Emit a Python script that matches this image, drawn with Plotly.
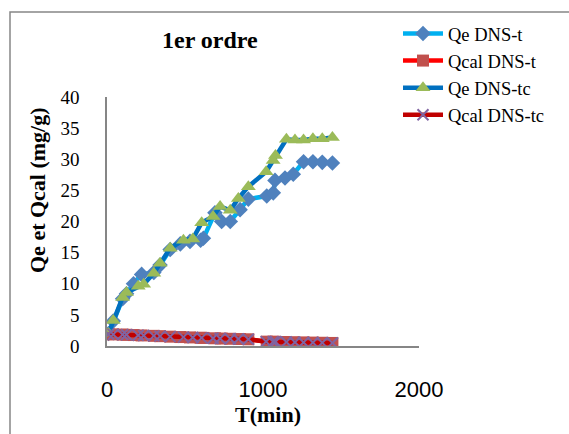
import plotly.graph_objects as go

# ---- data ----
t_t = [10, 40, 100, 125, 170, 222, 300, 340, 405, 470, 532, 600, 618, 692, 735, 790,
       853, 906, 1024, 1066, 1077, 1141, 1194, 1260, 1320, 1380, 1445]
qe_t = [2.0, 4.0, 7.6, 8.4, 10.0, 11.5, 11.8, 13.0, 15.5, 16.4, 16.8, 17.0, 17.3, 21.4, 20.0, 20.0,
        21.9, 23.6, 24.1, 24.6, 26.6, 27.0, 27.6, 29.6, 29.6, 29.5, 29.4]
qcal_t = [1.9, 1.87, 1.83, 1.8, 1.76, 1.7, 1.63, 1.58, 1.5, 1.44, 1.38, 1.32, 1.3, 1.24, 1.2, 1.16,
          1.12, 1.08, 0.7, 0.68, 0.67, 0.64, 0.61, 0.58, 0.55, 0.52, 0.49]

t_tc = [10, 40, 100, 125, 200, 235, 300, 340, 405, 490, 550, 607, 680, 725, 790, 842,
        906, 1020, 1065, 1080, 1150, 1205, 1260, 1320, 1380, 1445]
qe_tc = [2.0, 4.1, 7.8, 8.6, 9.6, 9.9, 11.7, 13.3, 15.7, 17.0, 17.2, 19.8, 20.8, 22.4, 21.8, 23.7,
         25.6, 28.0, 29.8, 30.6, 33.2, 33.1, 33.1, 33.3, 33.3, 33.5]
qcal_tc = [1.9, 1.87, 1.83, 1.8, 1.74, 1.69, 1.63, 1.58, 1.5, 1.42, 1.36, 1.31, 1.25, 1.2, 1.16, 1.12,
           1.08, 0.7, 0.68, 0.67, 0.64, 0.61, 0.58, 0.55, 0.52, 0.49]

series_names = ["Qe DNS-t", "Qcal DNS-t", "Qe DNS-tc", "Qcal DNS-tc"]
x_ticks = [0, 1000, 2000]
y_ticks = [0, 5, 10, 15, 20, 25, 30, 35, 40]

W, H = 569, 434
L, R, T, B = 107, 150, 97, 88
PW, PH = W - L - R, H - T - B

def px(x):
    return (x - L) / PW

def py(y):
    return (H - B - y) / PH

SERIF = "Liberation Serif"

fig = go.Figure()
fig.add_trace(go.Scatter(x=t_t, y=qe_t, name=series_names[0], mode="lines+markers",
                         line=dict(color="#00B0F0", width=4.5),
                         marker=dict(symbol="diamond", size=12, color="#4F81BD")))
fig.add_trace(go.Scatter(x=t_t, y=qcal_t, name=series_names[1], mode="lines+markers",
                         line=dict(color="#FF0000", width=4.5),
                         marker=dict(symbol="square", size=12, color="#C0504D")))
fig.add_trace(go.Scatter(x=t_tc, y=qe_tc, name=series_names[2], mode="lines+markers",
                         line=dict(color="#0070C0", width=4.5),
                         marker=dict(symbol="triangle-up", size=13, color="#9BBB59")))
fig.add_trace(go.Scatter(x=t_tc, y=qcal_tc, name=series_names[3], mode="lines+markers",
                         line=dict(color="#C00000", width=4.5),
                         marker=dict(symbol="x-thin", size=11, line=dict(color="#8064A2", width=2),
                                     color="#8064A2")))

fig.update_layout(
    width=W, height=H,
    margin=dict(l=L, r=R, t=T, b=B),
    paper_bgcolor="white", plot_bgcolor="white",
    showlegend=True,
    legend=dict(x=px(398), y=py(15), xanchor="left", yanchor="top",
                font=dict(family=SERIF, size=18.5, color="black"),
                bgcolor="rgba(0,0,0,0)", tracegroupgap=0, itemwidth=40),
    xaxis=dict(range=[0, 2000], tickvals=x_ticks, ticktext=[str(v) for v in x_ticks],
               showgrid=False, zeroline=False, showline=True, linecolor="#868686", linewidth=1.5,
               ticks="", ticklabelstandoff=23,
               tickfont=dict(family="Liberation Sans", size=22, color="black")),
    yaxis=dict(range=[0, 40], tickvals=y_ticks, ticktext=[str(v) for v in y_ticks],
               showgrid=False, zeroline=False, showline=True, linecolor="#868686", linewidth=1.5,
               ticks="", ticklabelstandoff=22,
               tickfont=dict(family=SERIF, size=19, color="black")),
    annotations=[
        dict(text="<b>1er ordre</b>", x=px(210), y=py(40), xref="paper", yref="paper",
             xanchor="center", yanchor="middle",
             showarrow=False, font=dict(family=SERIF, size=24, color="black")),
        dict(text="<b>Qe et Qcal (mg/g)</b>", x=px(37), y=py(190), xref="paper", yref="paper",
             xanchor="center", yanchor="middle",
             showarrow=False, textangle=-90, font=dict(family=SERIF, size=22, color="black")),
        dict(text="<b>T(min)</b>", x=px(268), y=py(414), xref="paper", yref="paper",
             xanchor="center", yanchor="middle",
             showarrow=False, font=dict(family=SERIF, size=22, color="black")),
    ],
    shapes=[dict(type="rect", xref="paper", yref="paper",
                 x0=px(10), x1=px(600), y0=py(470), y1=py(12),
                 line=dict(color="#868686", width=1.5), fillcolor="rgba(0,0,0,0)", layer="below")],
)

fig.write_html("out.html")
